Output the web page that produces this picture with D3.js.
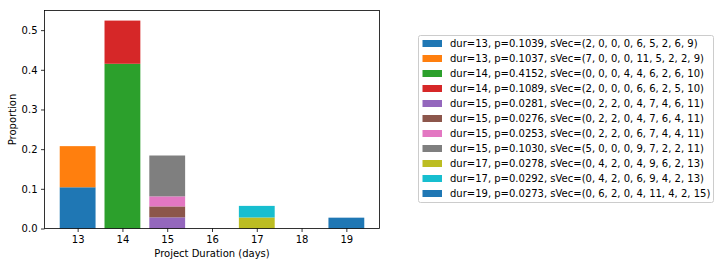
<!DOCTYPE html>
<html>
<head>
<meta charset="utf-8">
<script src="https://cdn.jsdelivr.net/npm/d3@7"></script>
<style>
  body { margin: 0; background: #fff; }
  svg text { font-family: "DejaVu Sans", sans-serif; fill: #000; }
</style>
</head>
<body>
<div id="chart"></div>
<script>
// Dati
const durations = [13, 13, 14, 14, 15, 15, 15, 15, 17, 17, 19];
const proportions = [0.1039, 0.1037, 0.4152, 0.1089, 0.0281, 0.0276, 0.0253, 0.1030, 0.0278, 0.0292, 0.0273];
const sVecs = [
  "2, 0, 0, 0, 6, 5, 2, 6, 9",
  "7, 0, 0, 0, 11, 5, 2, 2, 9",
  "0, 0, 0, 4, 4, 6, 2, 6, 10",
  "2, 0, 0, 0, 6, 6, 2, 5, 10",
  "0, 2, 2, 0, 4, 7, 4, 6, 11",
  "0, 2, 2, 0, 4, 7, 6, 4, 11",
  "0, 2, 2, 0, 6, 7, 4, 4, 11",
  "5, 0, 0, 0, 9, 7, 2, 2, 11",
  "0, 4, 2, 0, 4, 9, 6, 2, 13",
  "0, 4, 2, 0, 6, 9, 4, 2, 13",
  "0, 6, 2, 0, 4, 11, 4, 2, 15"
];
const xTicks = [13, 14, 15, 16, 17, 18, 19];
const yTicks = [0.0, 0.1, 0.2, 0.3, 0.4, 0.5];
const colors = ["#1f77b4", "#ff7f0e", "#2ca02c", "#d62728", "#9467bd", "#8c564b",
                "#e377c2", "#7f7f7f", "#bcbd22", "#17becf", "#1f77b4"];

// Impostazioni
const width = 720;
const height = 266;
const plot = { left: 44.5, right: 379.5, top: 10.5, bottom: 228.5 };
const barWidth = 0.8;

const svg = d3.select("#chart")
    .append("svg")
    .attr("width", width)
    .attr("height", height);

const x = d3.scaleLinear().domain([12.26, 19.74]).range([plot.left, plot.right]);
const y = d3.scaleLinear().domain([0, 0.5495]).range([plot.bottom, plot.top]);

// Barre impilate
const base = {};
const bars = durations.map((d, i) => {
  const y0 = base[d] || 0;
  base[d] = y0 + proportions[i];
  return { dur: d, y0: y0, y1: y0 + proportions[i], color: colors[i] };
});

svg.append("g")
  .selectAll("rect")
  .data(bars)
  .join("rect")
    .attr("x", d => x(d.dur - barWidth / 2))
    .attr("width", d => x(d.dur + barWidth / 2) - x(d.dur - barWidth / 2))
    .attr("y", d => y(d.y1))
    .attr("height", d => y(d.y0) - y(d.y1))
    .attr("fill", d => d.color);

// Assi
const xAxis = svg.append("g")
  .attr("transform", `translate(0,${plot.bottom})`)
  .call(d3.axisBottom(x).tickValues(xTicks).tickSize(3.5).tickPadding(3.5).tickFormat(d3.format("d")));
const yAxis = svg.append("g")
  .attr("transform", `translate(${plot.left},0)`)
  .call(d3.axisLeft(y).tickValues(yTicks).tickSize(3.5).tickPadding(3.5).tickFormat(d3.format(".1f")));

[xAxis, yAxis].forEach(a => {
  a.select(".domain").remove();
  a.selectAll("line").attr("stroke", "#000").attr("stroke-width", 0.8);
  a.selectAll("text").attr("font-size", "10px").attr("font-family", "DejaVu Sans");
});

// Cornice
svg.append("rect")
  .attr("x", plot.left)
  .attr("y", plot.top)
  .attr("width", plot.right - plot.left)
  .attr("height", plot.bottom - plot.top)
  .attr("fill", "none")
  .attr("stroke", "#000")
  .attr("stroke-width", 0.8);

// Etichette
svg.append("text")
  .attr("x", (plot.left + plot.right) / 2)
  .attr("y", 257)
  .attr("text-anchor", "middle")
  .attr("font-size", "10px")
  .text("Project Duration (days)");

svg.append("text")
  .attr("transform", `translate(15.5,${(plot.top + plot.bottom) / 2}) rotate(-90)`)
  .attr("text-anchor", "middle")
  .attr("font-size", "10px")
  .text("Proportion");

// Legenda
const legend = svg.append("g").attr("transform", "translate(418.5,35.5)");
legend.append("rect")
  .attr("width", 295)
  .attr("height", 167)
  .attr("rx", 2)
  .attr("fill", "#fff")
  .attr("stroke", "#ccc")
  .attr("stroke-width", 1);

const rows = legend.selectAll("g.item")
  .data(durations.map((d, i) => i))
  .join("g")
    .attr("class", "item")
    .attr("transform", i => `translate(0,${8 + i * 15})`);

rows.append("rect")
  .attr("x", 4)
  .attr("y", -3.5)
  .attr("width", 19.5)
  .attr("height", 7)
  .attr("fill", i => colors[i]);

rows.append("text")
  .attr("x", 31.5)
  .attr("y", 3.6)
  .attr("font-size", "10px")
  .text(i => `dur=${durations[i]}, p=${proportions[i].toFixed(4)}, sVec=(${sVecs[i]})`);
</script>
</body>
</html>
